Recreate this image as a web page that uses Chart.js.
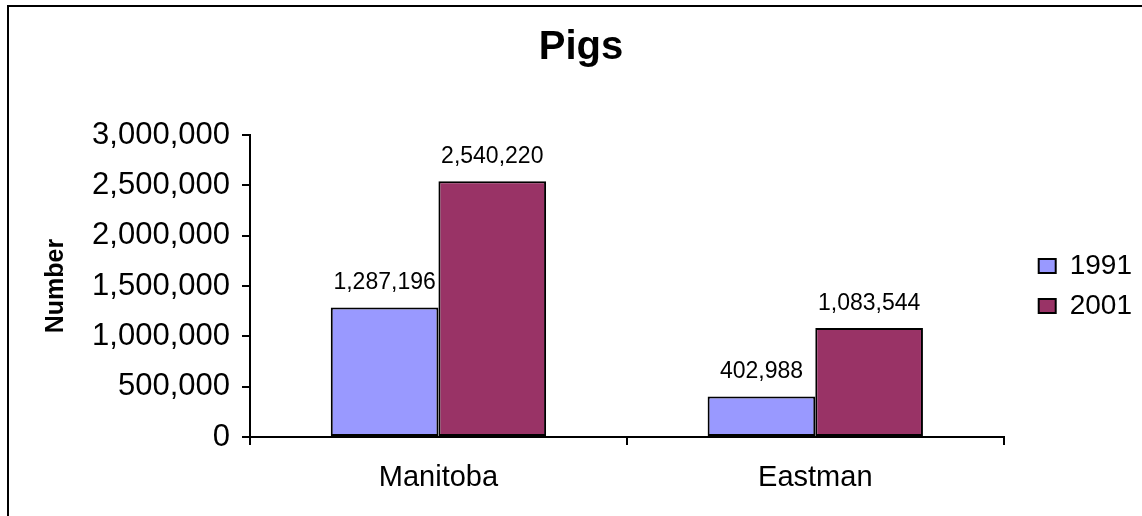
<!DOCTYPE html>
<html>
<head>
<meta charset="utf-8">
<script src="https://cdn.jsdelivr.net/npm/chart.js@4/dist/chart.umd.min.js"></script>
<style>
  html, body { margin: 0; padding: 0; background: #fff; }
  #wrap { width: 1142px; height: 516px; position: relative; }
</style>
</head>
<body>
<div id="wrap"><canvas id="c" width="1142" height="516"></canvas></div>
<script>
const categories = ['Manitoba', 'Eastman'];
const seriesNames = ['1991', '2001'];
const values1991 = [1287196, 402988];
const values2001 = [2540220, 1083544];
const yTicks = [0, 500000, 1000000, 1500000, 2000000, 2500000, 3000000];

const FONT = "'Liberation Sans', Arial, Helvetica, sans-serif";
const fmt = v => Number(v).toLocaleString('en-US');

const framePlugin = {
  id: 'frame',
  beforeDraw(chart) {
    const ctx = chart.ctx;
    ctx.save();
    ctx.fillStyle = '#fff';
    ctx.fillRect(0, 0, chart.width, chart.height);
    ctx.strokeStyle = '#000';
    ctx.lineWidth = 2;
    ctx.strokeRect(8, 6, chart.width + 20, chart.height + 20);
    ctx.restore();
  }
};

const labelPlugin = {
  id: 'barLabels',
  afterDatasetsDraw(chart) {
    const ctx = chart.ctx;
    ctx.save();
    ctx.font = '23px ' + FONT;
    ctx.fillStyle = '#000';
    ctx.textAlign = 'center';
    ctx.textBaseline = 'alphabetic';
    chart.data.datasets.forEach((ds, di) => {
      const meta = chart.getDatasetMeta(di);
      meta.data.forEach((bar, i) => {
        ctx.fillText(fmt(ds.data[i]), bar.x, bar.y - 18);
      });
    });
    ctx.restore();
  }
};

new Chart(document.getElementById('c'), {
  type: 'bar',
  data: {
    labels: categories,
    datasets: [
      { label: seriesNames[0], data: values1991, backgroundColor: '#9999FF', borderColor: '#000', borderWidth: 2, borderSkipped: false },
      { label: seriesNames[1], data: values2001, backgroundColor: '#993366', borderColor: '#000', borderWidth: 2, borderSkipped: false }
    ]
  },
  options: {
    responsive: false,
    animation: false,
    devicePixelRatio: 1,
    layout: { padding: { left: 20, right: 0, top: 0, bottom: 0 } },
    datasets: { bar: { categoryPercentage: 0.5714, barPercentage: 1.0 } },
    plugins: {
      title: {
        display: true,
        text: 'Pigs',
        color: '#000',
        font: { family: FONT, size: 40, weight: 'bold' },
        padding: { top: 24, bottom: 63 }
      },
      legend: {
        display: true,
        position: 'right',
        align: 'center',
        fullSize: false,
        labels: {
          color: '#000',
          font: { family: FONT, size: 28 },
          boxWidth: 17,
          boxHeight: 14,
          padding: 12
        }
      },
      tooltip: { enabled: false }
    },
    scales: {
      x: {
        grid: { display: true, drawOnChartArea: false, drawTicks: true, tickLength: 8, color: '#000', lineWidth: 2, offset: true },
        border: { display: true, color: '#000', width: 2 },
        ticks: { color: '#000', font: { family: FONT, size: 29 }, padding: 16 },
        afterFit(s) { s.height = 79; }
      },
      y: {
        min: 0,
        max: 3000000,
        afterBuildTicks(s) { s.ticks = yTicks.map(v => ({ value: v })); },
        grid: { display: true, drawOnChartArea: false, drawTicks: true, tickLength: 8, color: '#000', lineWidth: 2 },
        border: { display: true, color: '#000', width: 2 },
        ticks: { color: '#000', font: { family: FONT, size: 31 }, padding: 12, callback: v => fmt(v) },
        title: { display: true, text: 'Number', color: '#000', font: { family: FONT, size: 25, weight: 'bold' }, padding: { top: 21, bottom: 0 } },
        afterFit(s) { s.width = 230; }
      },
      yR: {
        type: 'linear',
        position: 'right',
        display: true,
        grid: { display: false },
        border: { display: false },
        ticks: { display: false },
        afterFit(s) { s.width = 23; }
      }
    }
  },
  plugins: [framePlugin, labelPlugin]
});
</script>
</body>
</html>
